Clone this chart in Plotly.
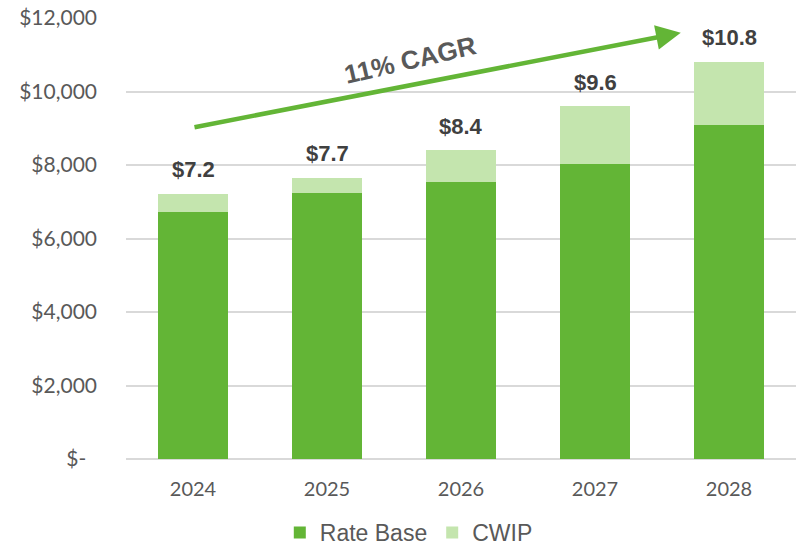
import plotly.graph_objects as go

years = ["2024", "2025", "2026", "2027", "2028"]
rate_base = [6710, 7235, 7550, 8015, 9100]
cwip = [510, 420, 855, 1580, 1715]
total_labels = ["$7.2", "$7.7", "$8.4", "$9.6", "$10.8"]
cagr_text = "11% CAGR"
y_tickvals = [0, 2000, 4000, 6000, 8000, 10000, 12000]
y_ticktext = ["$-\u00a0\u00a0", "$2,000", "$4,000", "$6,000", "$8,000", "$10,000", "$12,000"]

dark = "#63b536"
light = "#c4e5ae"

xpos = list(range(len(years)))

fig = go.Figure()
fig.add_trace(go.Bar(x=xpos, y=rate_base, name="Rate Base", marker=dict(color=dark, line=dict(width=0)), width=0.52))
fig.add_trace(go.Bar(x=xpos, y=cwip, name="CWIP", marker=dict(color=light, line=dict(width=0)), width=0.52))

totals = [a + b for a, b in zip(rate_base, cwip)]
for xi, t, lab in zip(xpos, totals, total_labels):
    fig.add_annotation(x=xi, y=t, text=f"<b>{lab}</b>", showarrow=False, yshift=24,
                       font=dict(family="Liberation Sans, Arial", size=22, color="#404040"))

# CAGR arrow
fig.add_annotation(x=3.64, y=11600, ax=0, ay=9020, xref="x", yref="y", axref="x", ayref="y",
                   text="", showarrow=True, arrowhead=2, arrowsize=1.1, arrowwidth=4.5,
                   arrowcolor=dark, standoff=0, startstandoff=0)
fig.add_annotation(x=1.62, y=10850, text=f"<b>{cagr_text}</b>", showarrow=False, textangle=-13,
                   font=dict(family="Liberation Sans, Arial", size=26, color="#595959"))

fig.update_layout(
    barmode="stack",
    width=800, height=554,
    margin=dict(l=126, r=4, t=18, b=95, autoexpand=False),
    paper_bgcolor="white", plot_bgcolor="white",
    showlegend=True,
    legend=dict(orientation="h", x=0.511, xanchor="center", xref="container",
                y=0.0, yanchor="bottom", yref="container",
                font=dict(family="Liberation Sans, Arial", size=23, color="#595959"),
                itemwidth=30, traceorder="normal"),
    xaxis=dict(range=[-0.5, 4.5], tickvals=xpos, ticktext=years, showgrid=False, showline=False,
               zeroline=False, ticks="", automargin=False, ticklabelstandoff=16,
               tickfont=dict(family="Lato, Open Sans", size=20, color="#595959")),
    yaxis=dict(range=[0, 12000], tickvals=y_tickvals, ticktext=y_ticktext,
               showgrid=True, gridcolor="#d9d9d9", gridwidth=1.5, zeroline=True,
               zerolinecolor="#d9d9d9", zerolinewidth=1.5, ticks="", ticklabelstandoff=28,
               automargin=False,
               tickfont=dict(family="Lato, Open Sans", size=21, color="#595959")),
)

fig.write_html("out.html", config={"displayModeBar": False},
               post_script="document.body.style.margin='0';document.body.style.overflow='hidden';")
